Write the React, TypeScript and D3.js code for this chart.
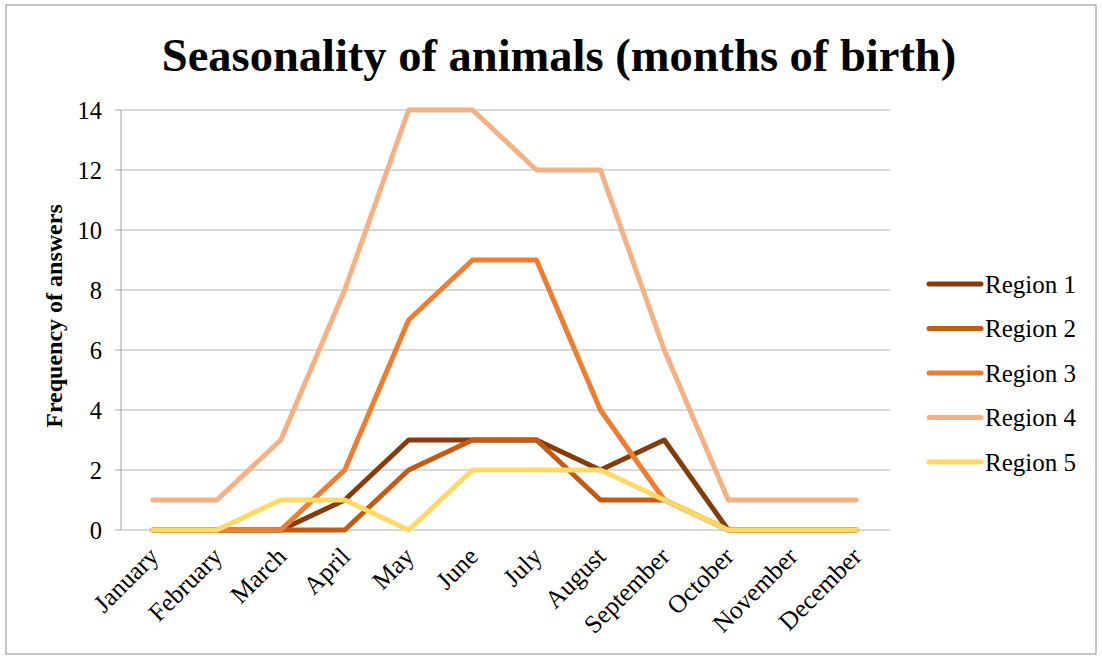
import React from "react";
import * as d3 from "d3";

const months = ["January","February","March","April","May","June","July","August","September","October","November","December"];
const seriesNames = ["Region 1","Region 2","Region 3","Region 4","Region 5"];
const region1 = [0,0,0,1,3,3,3,2,3,0,0,0];
const region2 = [0,0,0,0,2,3,3,1,1,0,0,0];
const region3 = [0,0,0,2,7,9,9,4,1,0,0,0];
const region4 = [1,1,3,8,14,14,12,12,6,1,1,1];
const region5 = [0,0,1,1,0,2,2,2,1,0,0,0];
const yTicks = [0,2,4,6,8,10,12,14];
const colors = ["#843C0C","#C55A11","#ED7D31","#F4B183","#FFD966"];

const W = 1102, H = 659;
const plot = { left: 121, right: 888, top: 110, bottom: 530 };

export default function App() {
  const series = [region1, region2, region3, region4, region5];
  const x = d3.scalePoint<string>().domain(months).range([plot.left, plot.right]).padding(0.5);
  const y = d3.scaleLinear().domain([0, 14]).range([plot.bottom, plot.top]);
  const line = d3.line<number>().x((_, i) => x(months[i]) as number).y(d => y(d));
  const font = "'Liberation Serif', 'Times New Roman', serif";
  return (
    <svg width={W} height={H} style={{ position: "absolute", left: 0, top: 0, background: "#fff" }} fontFamily={font}>
      <rect x={6} y={5} width={1090} height={649} fill="#fff" stroke="#a0a0a0" strokeWidth={1.2} />
      <text x={559} y={71} textAnchor="middle" fontSize={46.5} fontWeight="bold">Seasonality of animals (months of birth)</text>
      {yTicks.map(t => (
        <g key={t}>
          <line x1={plot.left} x2={890} y1={y(t)} y2={y(t)} stroke="#d9d9d9" strokeWidth={2} />
          <line x1={115} x2={plot.left} y1={y(t)} y2={y(t)} stroke="#a6a6a6" strokeWidth={1} />
          <text x={102} y={y(t)} dy="0.35em" textAnchor="end" fontSize={24.5}>{t}</text>
        </g>
      ))}
      <line x1={plot.left} x2={plot.left} y1={plot.top} y2={plot.bottom} stroke="#a6a6a6" strokeWidth={1} />
      <text transform={`translate(62,316) rotate(-90)`} textAnchor="middle" fontSize={24} fontWeight="bold">Frequency of answers</text>
      {months.map(m => (
        <text key={m} transform={`translate(${(x(m) as number) + 7},558) rotate(-45)`} textAnchor="end" fontSize={25.5}>{m}</text>
      ))}
      {series.map((s, i) => (
        <path key={i} d={line(s) as string} fill="none" stroke={colors[i]} strokeWidth={5} strokeLinejoin="round" strokeLinecap="round" />
      ))}
      {seriesNames.map((n, i) => (
        <g key={n} transform={`translate(0,${284 + i * 44.5})`}>
          <line x1={929} x2={981} y1={0} y2={0} stroke={colors[i]} strokeWidth={5} strokeLinecap="round" />
          <text x={985} y={0} dy="0.35em" fontSize={25}>{n}</text>
        </g>
      ))}
    </svg>
  );
}
